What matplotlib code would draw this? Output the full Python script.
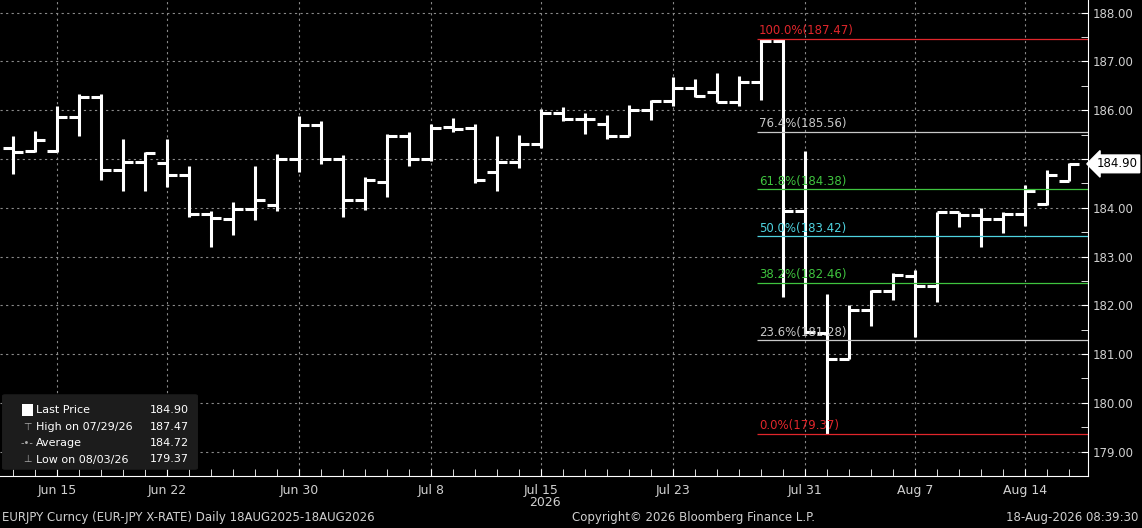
import numpy as np
import pandas as pd
import matplotlib
matplotlib.use("Agg")
from matplotlib import pyplot as plt
from matplotlib.patches import FancyBboxPatch

# daily OHLC, EURJPY, 11 Jun - 18 Aug 2026
dates = pd.bdate_range("2026-06-11", "2026-08-18")
opens = [185.22, 185.17, 185.17, 185.87, 186.27, 184.77, 184.93, 184.91, 184.67, 183.87,
         183.77, 183.98, 184.06, 184.99, 185.70, 184.99, 184.16, 184.52,
         185.48, 185.01, 185.66, 185.64, 184.73, 184.93, 185.30, 185.95, 185.83, 185.72,
         185.48, 186.01, 186.19, 186.46, 186.37, 186.17, 186.58,
         187.41, 183.93, 181.44, 180.89, 181.90, 182.29, 182.61,
         182.39, 183.91, 183.85, 183.77, 183.87, 184.08, 184.54]
highs = [185.48, 185.58, 186.09, 186.33, 186.33, 185.40, 185.15, 185.42, 184.85, 183.93,
         184.12, 184.85, 185.11, 185.89, 185.78, 185.09, 184.63, 185.52,
         185.56, 185.72, 185.85, 185.72, 185.48, 185.50, 186.03, 186.07, 185.95, 185.91,
         186.11, 186.21, 186.68, 186.64, 186.76, 186.70, 187.47,
         187.47, 185.17, 182.23, 182.00, 182.31, 182.67, 182.72,
         183.91, 183.91, 183.99, 183.91, 184.46, 184.77, 184.91]
lows = [184.69, 185.15, 185.15, 185.48, 184.57, 184.34, 184.34, 184.42, 183.81, 183.20,
        183.45, 183.75, 183.93, 184.73, 184.89, 183.81, 183.96, 184.22,
        184.85, 184.95, 185.56, 184.50, 184.34, 184.81, 185.22, 185.78, 185.52, 185.40,
        185.48, 185.80, 186.09, 186.27, 186.17, 186.09, 186.21,
        182.17, 181.41, 179.37, 180.89, 181.58, 182.11, 181.35,
        182.07, 183.61, 183.20, 183.49, 183.63, 184.06, 184.54]
closes = [185.15, 185.38, 185.87, 186.27, 184.77, 184.93, 185.13, 184.67, 183.87, 183.79,
          183.98, 184.16, 184.99, 185.70, 184.99, 184.16, 184.57, 185.48,
          185.01, 185.64, 185.62, 184.57, 184.93, 185.30, 185.95, 185.83, 185.83, 185.48,
          186.01, 186.19, 186.46, 186.29, 186.17, 186.58, 187.41,
          183.93, 181.46, 180.89, 181.90, 182.29, 182.63, 182.39,
          183.91, 183.85, 183.77, 183.87, 184.34, 184.67, 184.90]

fib_pcts = ["100.0%", "76.4%", "61.8%", "50.0%", "38.2%", "23.6%", "0.0%"]
fib_vals = [187.47, 185.56, 184.38, 183.42, 182.46, 181.28, 179.37]
fib_cols = ["#e0262b", "#c8c8c8", "#3fc43f", "#4fd3e0", "#3fc43f", "#c8c8c8", "#e0262b"]

tick_labels = ["Jun 15", "Jun 22", "Jun 30", "Jul 8", "Jul 15", "Jul 23", "Jul 31", "Aug 7", "Aug 14"]
price_ticks = np.arange(179, 189)

fig = plt.figure(figsize=(11.42, 5.28), dpi=100, facecolor="black")
ax = fig.add_axes([0, 52 / 528, 1088 / 1142, 476 / 528], facecolor="black")

x = np.arange(len(dates))
ax.vlines(x, lows, highs, color="white", lw=2.2)
ax.hlines(opens, x - 0.45, x, color="white", lw=2.2)
ax.hlines(closes, x, x + 0.45, color="white", lw=2.2)

x0 = 33.8
for pct, v, c in zip(fib_pcts, fib_vals, fib_cols):
    ax.hlines(v, x0, 48.86, color=c, lw=0.9)
    ax.text(x0 + 0.1, v + 0.03, f"{pct}({v:.2f})", color=c, fontsize=8.5, va="bottom", ha="left")

ax.set_xlim(-0.59, 48.86)
ax.set_ylim(178.59, 188.26)

date_strs = [f"{d:%b} {d.day}" for d in dates]
tick_pos = [date_strs.index(t) for t in tick_labels]
ax.set_xticks(tick_pos)
ax.set_xticklabels(tick_labels, color="#d0d0d0", fontsize=9)
ax.set_xticks(x, minor=True)
ax.tick_params(axis="x", which="both", direction="in", color="white", length=5, pad=6)
ax.yaxis.tick_right()
ax.set_yticks(price_ticks)
# the last-price tag covers the 185.00 label
ax.set_yticklabels(["" if abs(v - closes[-1]) < 0.3 else f"{v:.2f}" for v in price_ticks],
                   color="#d0d0d0", fontsize=8.5)
ax.set_yticks(np.arange(178.5, 188.5, 1), minor=True)
ax.tick_params(axis="y", which="both", direction="in", color="white", length=5)
ax.grid(True, color="#8a8a8a", ls=(0, (2, 3)), lw=0.8)
for s in ["top", "left"]:
    ax.spines[s].set_visible(False)
ax.spines["bottom"].set_color("white")
ax.spines["right"].set_color("white")

# last price tag
ax.annotate(f"{closes[-1]:.2f}", xy=(1.0, closes[-1]), xycoords=("axes fraction", "data"),
            xytext=(6, 0), textcoords="offset points", va="center", ha="left",
            fontsize=8.5, color="black",
            bbox=dict(boxstyle="larrow,pad=0.2", fc="white", ec="white"))

# legend box
fig.patches.append(FancyBboxPatch((5 / 1142, 60 / 528), 190 / 1142, 72 / 528,
                                  boxstyle="round,pad=0.002", transform=fig.transFigure,
                                  fc="#1c1c1c", ec="#1c1c1c", zorder=5))
leg_rows = [("Last Price", closes[-1]), ("High on 07/29/26", max(highs)),
            ("Average", 184.72), ("Low on 08/03/26", min(lows))]
for i, (name, val) in enumerate(leg_rows):
    yy = (528 - 410 - i * 16.5) / 528
    fig.text(36 / 1142, yy, name, color="white", fontsize=8, va="center", zorder=6)
    fig.text(189 / 1142, yy, f"{val:.2f}", color="white", fontsize=8, va="center", ha="right", zorder=6)
fig.patches.append(plt.Rectangle((22 / 1142, (528 - 416) / 528), 11 / 1142, 12 / 528,
                                 transform=fig.transFigure, fc="white", zorder=6))
for i, sym in enumerate(["⊤", "-•-", "⊥"]):
    fig.text(27 / 1142, (528 - 426.5 - i * 16.5) / 528, sym, color="#aaaaaa", fontsize=7,
             ha="center", va="center", zorder=6)

fig.text(545 / 1142, (528 - 502) / 528, "2026", color="#d0d0d0", fontsize=9, ha="center", va="center")
fig.text(2 / 1142, 10 / 528, "EURJPY Curncy (EUR-JPY X-RATE) Daily 18AUG2025-18AUG2026",
         color="#d0d0d0", fontsize=8.5, va="center")
fig.text(693 / 1142, 10 / 528, "Copyright© 2026 Bloomberg Finance L.P.", color="#d0d0d0",
         fontsize=8.5, ha="center", va="center")
fig.text(1138 / 1142, 10 / 528, "18-Aug-2026 08:39:30", color="#d0d0d0", fontsize=8.5,
         ha="right", va="center")

fig.savefig("out.png", dpi=100, facecolor="black")
